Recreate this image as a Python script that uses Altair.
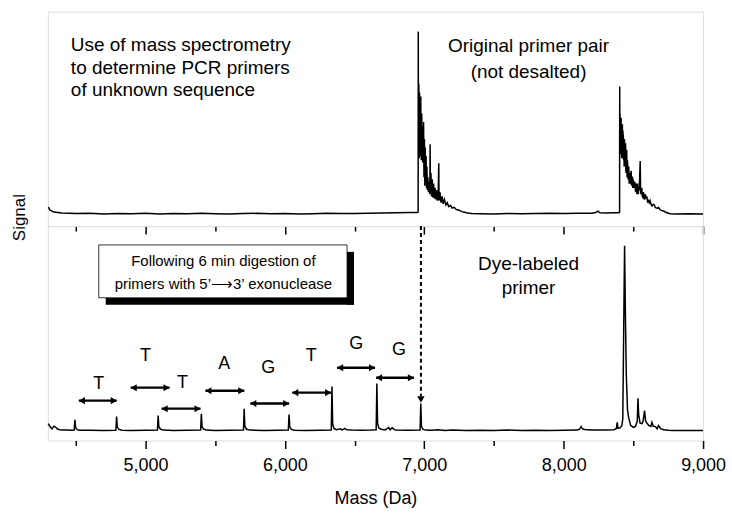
import altair as alt
import pandas as pd

# ---------------- data ----------------
top_mass = [4304, 4314, 4343, 4400, 4500, 4600, 4700, 4800, 4900, 5000, 5100, 5200, 5300,
            5400, 5500, 5600, 5700, 5800, 5900, 6000, 6100, 6200, 6300, 6400, 6500, 6600,
            6700, 6800, 6900, 6950, 6956,
            6957, 6958, 6959, 6960, 6961, 6962, 6963, 6964, 6965, 6966, 6967, 6968, 6969,
            6970, 6971, 6972, 6973, 6974, 6975, 6976, 6977, 6978, 6979, 6980, 6981, 6982,
            6983, 6984, 6985, 6986, 6987, 6988, 6989, 6990, 6992, 6993, 6995, 6997, 6998,
            7001, 7003, 7004, 7006, 7007, 7009, 7010, 7012, 7013, 7016, 7019, 7022, 7026,
            7030, 7035, 7040, 7042, 7044, 7048, 7052, 7057, 7062, 7067, 7072, 7077, 7082,
            7088, 7094, 7100, 7104, 7106, 7112, 7120, 7128, 7136, 7145, 7155, 7165, 7175,
            7188, 7200, 7215, 7230, 7250, 7270, 7290, 7310, 7340, 7400, 7500, 7600, 7700,
            7800, 7900, 8000, 8100, 8200, 8230, 8245, 8260, 8300, 8350, 8395, 8401,
            8402, 8403, 8404, 8405, 8406, 8407, 8408, 8409, 8410, 8412, 8413, 8415, 8416,
            8418, 8419, 8421, 8422, 8424, 8425, 8427, 8428, 8430, 8432, 8434, 8436, 8438,
            8440, 8442, 8444, 8446, 8448, 8450, 8452, 8455, 8457, 8460, 8462, 8465, 8467,
            8470, 8472, 8475, 8478, 8481, 8484, 8487, 8490, 8493, 8496, 8499, 8502, 8506,
            8510, 8514, 8518, 8522, 8526, 8530, 8534, 8538, 8542, 8549, 8552, 8556, 8560,
            8564, 8568, 8572, 8577, 8581, 8586, 8591, 8596, 8602, 8608, 8614, 8620, 8628,
            8635, 8642, 8650, 8657, 8665, 8672, 8680, 8690, 8700, 8720, 8740, 8765, 8800,
            8900, 9000]
top_signal = [8.0, 6.6, 5.6, 5.2, 4.9, 5.0, 4.7, 4.9, 4.8, 5.0, 4.7, 4.9, 4.8,
              5.0, 4.8, 4.7, 4.9, 5.0, 4.8, 4.9, 4.7, 4.8, 5.0, 4.9, 4.9, 5.1,
              5.2, 5.3, 5.4, 5.4, 5.6,
              90.6, 45, 64, 38, 66, 33, 58, 40, 31, 62, 44, 35, 60,
              38, 55, 32, 52, 36, 60, 34, 48, 50, 30, 46, 33, 52,
              31, 45, 33, 46, 30, 43, 29, 44, 34, 31, 48, 30, 22,
              40, 26, 18, 34, 36, 21, 20, 30, 32, 17, 27, 16, 22,
              15, 20, 14, 37.6, 15, 24, 13, 21, 12.5, 19, 12, 17, 11.5,
              16, 11, 14, 28.6, 11, 15, 10, 13, 9.5, 11.5, 9, 10, 8.2,
              8.8, 7.5, 7.8, 6.8, 6.5, 5.8, 5.5, 5.2, 4.9, 4.8, 4.7, 4.9, 4.8,
              4.9, 5.0, 4.9, 5.0, 5.0, 5.4, 6.0, 5.3, 5.2, 5.3, 5.3, 5.5,
              64.8, 36, 52, 40, 33, 50, 38, 47, 35, 50, 33, 46, 31,
              44, 31, 47, 36, 33, 44, 36, 42, 30, 37, 27, 40, 30,
              28, 36, 38, 25, 24, 33, 35, 22, 30, 27, 21, 25, 27,
              19, 24, 20, 19, 23, 25, 18, 22, 22, 17, 21, 17, 18,
              20, 16, 15, 19, 14, 19, 14, 17, 16, 29.6, 14, 16, 17,
              13, 12.5, 15, 13, 11.5, 14, 12, 13, 10.5, 11, 10, 11, 9,
              8.5, 9.2, 9, 7.8, 7.5, 7.4, 7.8, 6.8, 6.4, 6.0, 5.3, 4.8, 4.7,
              4.8, 4.7]

bottom_mass = [4302, 4310, 4320, 4330, 4342, 4355, 4368, 4385, 4410, 4440, 4470, 4489,
               4494, 4499, 4510, 4530, 4600, 4700, 4788, 4793, 4798, 4810, 4830, 4900,
               5000, 5086, 5091, 5096, 5108, 5130, 5200, 5300, 5396, 5401, 5406, 5418,
               5440, 5500, 5600, 5703, 5708, 5713, 5725, 5750, 5850, 5950, 6025, 6030,
               6035, 6047, 6070, 6150, 6250, 6333, 6338, 6343, 6352, 6370, 6400, 6410,
               6430, 6445, 6480, 6550, 6620, 6655, 6660, 6665, 6674, 6690, 6720, 6745,
               6755, 6770, 6785, 6800, 6880, 6970, 6975, 6980, 6992, 7010, 7050, 7100,
               7150, 7200, 7300, 7400, 7500, 7600, 7700, 7800, 7900, 8000, 8100, 8115,
               8125, 8135, 8150, 8200, 8300, 8360, 8378, 8384, 8390, 8405, 8418, 8424,
               8432, 8437, 8442, 8449, 8458, 8466, 8480, 8500, 8515, 8528, 8533, 8538,
               8548, 8562, 8570, 8580, 8588, 8597, 8610, 8625, 8633, 8642, 8657, 8670,
               8681, 8695, 8717, 8750, 8789, 8850, 8950, 9000]
bottom_signal = [7.8, 7.0, 6.0, 5.4, 6.6, 6.2, 5.3, 5.0, 4.8, 4.9, 4.7, 4.8,
                 9.6, 6.0, 5.0, 4.7, 4.7, 4.6, 4.7, 11.1, 6.2, 5.1, 4.7, 4.6,
                 4.7, 4.8, 11.5, 6.4, 5.2, 4.8, 4.6, 4.7, 4.8, 12.3, 6.3, 5.2,
                 4.8, 4.6, 4.7, 4.8, 14.7, 6.6, 5.2, 4.8, 4.6, 4.7, 4.8, 12.0,
                 6.3, 5.1, 4.7, 4.6, 4.7, 4.8, 24.9, 7.5, 5.6, 5.0, 5.4, 4.8,
                 5.6, 4.9, 4.8, 4.7, 4.8, 4.9, 26.3, 8.0, 5.8, 5.2, 4.9, 6.0,
                 4.9, 5.9, 5.0, 4.8, 4.7, 4.8, 17.1, 6.4, 5.1, 4.8, 4.7, 5.0,
                 4.6, 4.8, 4.6, 4.7, 4.6, 4.8, 4.6, 4.7, 4.6, 4.7, 4.8, 5.3,
                 6.5, 5.4, 5.1, 4.9, 4.8, 5.0, 5.5, 8.4, 5.6, 5.8, 7.0, 10.0,
                 60.0, 89.9, 62.0, 30.9, 14.0, 10.7, 7.0, 6.1, 6.5, 9.0, 19.5, 12.0,
                 8.0, 7.8, 9.0, 13.8, 9.0, 8.0, 7.0, 6.5, 8.4, 6.6, 6.5, 5.4,
                 6.9, 5.5, 5.0, 4.7, 4.6, 4.6, 4.6, 4.6]

# base-loss annotations (bottom panel)
letters = ["T", "T", "T", "A", "G", "T", "G", "G"]
letter_mass = [4665, 5001, 5266, 5566, 5881, 6189, 6511, 6818]
letter_signal = [26.3, 39.2, 26.7, 35.5, 33.6, 39.2, 44.7, 41.9]
arrow_start = [4522, 4894, 5116, 5430, 5752, 6053, 6375, 6654]
arrow_end = [4794, 5173, 5395, 5709, 6031, 6332, 6647, 6926]
arrow_signal = [18.4, 24.4, 14.7, 23.0, 17.1, 22.1, 33.6, 29.0]

# text notes
top_left_lines = ["Use of mass spectrometry", "to determine PCR primers", "of unknown sequence"]
top_left_mass = [4465, 4465, 4465]
top_left_signal = [84.4, 73.4, 62.9]
top_right_lines = ["Original primer pair", "(not desalted)"]
top_right_mass = [7748, 7748]
top_right_signal = [83.6, 71.8]
bottom_right_lines = ["Dye-labeled", "primer"]
bottom_right_mass = [7748, 7748]
bottom_right_signal = [81.6, 70.5]
box_lines = ["Following 6 min digestion of", "primers with 5\u2019\u27f63\u2019 exonuclease"]
box_line_mass = [5559, 5559]
box_line_signal = [82.9, 72.4]
box_mass = [4665, 6446]
box_signal = [65.9, 90.3]
shadow_mass = [4715, 6496]
shadow_signal = [62.7, 87.1]
link_mass = [6976]
link_signal = [99.0, 20.5]
link_head_signal = [18.9]

tick_values = [4500, 5000, 5500, 6000, 6500, 7000, 7500, 8000, 8500, 9000]
x_domain = [4300, 9000]

FONT = "Liberation Sans"

# ---------------- frames ----------------
top_df = pd.DataFrame({"mass": top_mass, "signal": top_signal})
bot_df = pd.DataFrame({"mass": bottom_mass, "signal": bottom_signal})

xscale = alt.Scale(domain=x_domain, nice=False, zero=False)
ytop_scale = alt.Scale(domain=[-1, 100], nice=False, zero=False)
ybot_scale = alt.Scale(domain=[0, 99], nice=False, zero=False)

tick_size = {"condition": {"test": "datum.value % 1000 === 0", "value": 8}, "value": 5}

x_axis_top = alt.Axis(values=tick_values, labels=False, title=None, domain=False, grid=False,
                      tickSize=tick_size, tickColor="black", tickWidth=1.5)
x_axis_bot = alt.Axis(values=tick_values, title="Mass (Da)", domain=False, grid=False,
                      tickSize=tick_size, tickColor="black", tickWidth=1.5,
                      labelExpr="datum.value % 1000 === 0 ? format(datum.value, ',') : ''",
                      labelFlush=False, labelOverlap=False, labelFont=FONT, labelFontSize=18,
                      labelColor="black", labelPadding=8, titleFont=FONT, titleFontSize=18,
                      titleFontWeight="normal", titleColor="black", titlePadding=15)
y_axis_top = alt.Axis(title="Signal", ticks=False, labels=False, domain=False, grid=False,
                      titleFont=FONT, titleFontSize=17, titleFontWeight="normal",
                      titleColor="black", titleX=-28, titleY=206, titleAngle=270,
                      titleAlign="center", titleBaseline="middle")

W = 657
H = 215

top_line = alt.Chart(top_df).mark_line(color="black", strokeWidth=1.5).encode(
    x=alt.X("mass:Q", scale=xscale, axis=x_axis_top),
    y=alt.Y("signal:Q", scale=ytop_scale, axis=y_axis_top),
)
top_left_text = alt.Chart(pd.DataFrame({"mass": top_left_mass, "signal": top_left_signal,
                                        "label": top_left_lines})).mark_text(
    font=FONT, fontSize=19, align="left", baseline="middle", color="black"
).encode(x="mass:Q", y="signal:Q", text="label:N")
top_right_text = alt.Chart(pd.DataFrame({"mass": top_right_mass, "signal": top_right_signal,
                                         "label": top_right_lines})).mark_text(
    font=FONT, fontSize=19, align="center", baseline="middle", color="black"
).encode(x="mass:Q", y="signal:Q", text="label:N")

top = alt.layer(top_line, top_left_text, top_right_text).properties(width=W, height=H)

bot_line = alt.Chart(bot_df).mark_line(color="black", strokeWidth=1.5).encode(
    x=alt.X("mass:Q", scale=xscale, axis=x_axis_bot),
    y=alt.Y("signal:Q", scale=ybot_scale, axis=None),
)
# drop shadow of the box: a strip on the right and one along the bottom
shadow_right = alt.Chart(pd.DataFrame({
    "srx": [(box_mass[1] + shadow_mass[1]) / 2],
    "sry1": [shadow_signal[0]], "sry2": [shadow_signal[1]]})).mark_rule(
    color="black", strokeWidth=7, strokeCap="butt").encode(x="srx:Q", y="sry1:Q", y2="sry2:Q")
shadow_bottom = alt.Chart(pd.DataFrame({
    "sbx1": [shadow_mass[0]], "sbx2": [shadow_mass[1]],
    "sby": [(shadow_signal[0] + box_signal[0]) / 2]})).mark_rule(
    color="black", strokeWidth=7, strokeCap="butt").encode(x="sbx1:Q", x2="sbx2:Q", y="sby:Q")
box = alt.Chart(pd.DataFrame({"bx1": [box_mass[0]], "bx2": [box_mass[1]],
                              "by1": [box_signal[0]], "by2": [box_signal[1]]})).mark_rect(
    fill="white", stroke="black", strokeWidth=0.8, opacity=1).encode(
    x="bx1:Q", x2="bx2:Q", y="by1:Q", y2="by2:Q")
box_text = alt.Chart(pd.DataFrame({"mass": box_line_mass, "signal": box_line_signal,
                                   "label": box_lines})).mark_text(
    font=FONT, fontSize=15, align="center", baseline="middle", color="black"
).encode(x="mass:Q", y="signal:Q", text="label:N")
dye_text = alt.Chart(pd.DataFrame({"mass": bottom_right_mass, "signal": bottom_right_signal,
                                   "label": bottom_right_lines})).mark_text(
    font=FONT, fontSize=19, align="center", baseline="middle", color="black"
).encode(x="mass:Q", y="signal:Q", text="label:N")

link = alt.Chart(pd.DataFrame({"mass": link_mass, "ly1": [link_signal[0]],
                               "ly2": [link_signal[1]]})).mark_rule(
    color="black", strokeWidth=2, strokeDash=[4, 3]).encode(x="mass:Q", y="ly1:Q", y2="ly2:Q")
link_head = alt.Chart(pd.DataFrame({"mass": link_mass, "signal": link_head_signal})).mark_point(
    shape="triangle-down", filled=True, color="black", size=55, opacity=1).encode(
    x="mass:Q", y="signal:Q")

arr_df = pd.DataFrame({"a1": arrow_start, "a2": arrow_end, "signal": arrow_signal})
arrows = alt.Chart(arr_df).mark_rule(color="black", strokeWidth=2.4).encode(
    x="a1:Q", x2="a2:Q", y="signal:Q")
heads_l = alt.Chart(arr_df).mark_point(shape="triangle-left", filled=True, color="black",
                                       size=50, opacity=1, xOffset=3).encode(x="a1:Q", y="signal:Q")
heads_r = alt.Chart(arr_df).mark_point(shape="triangle-right", filled=True, color="black",
                                       size=50, opacity=1, xOffset=-3).encode(x="a2:Q", y="signal:Q")
letters_text = alt.Chart(pd.DataFrame({"mass": letter_mass, "signal": letter_signal,
                                       "label": letters})).mark_text(
    font=FONT, fontSize=18, align="center", baseline="middle", color="black"
).encode(x="mass:Q", y="signal:Q", text="label:N")

bottom = alt.layer(bot_line, shadow_right, shadow_bottom, box, box_text, dye_text, link,
                   link_head, arrows, heads_l, heads_r, letters_text).properties(width=W, height=H)

chart = alt.vconcat(top, bottom, spacing=0, bounds="flush").properties(
    padding={"left": 10, "top": 10, "right": 5, "bottom": 5}
).configure_view(stroke="black", strokeWidth=1.5).configure(background="white")

chart.save("out.html", embed_options={"renderer": "svg", "actions": False})
